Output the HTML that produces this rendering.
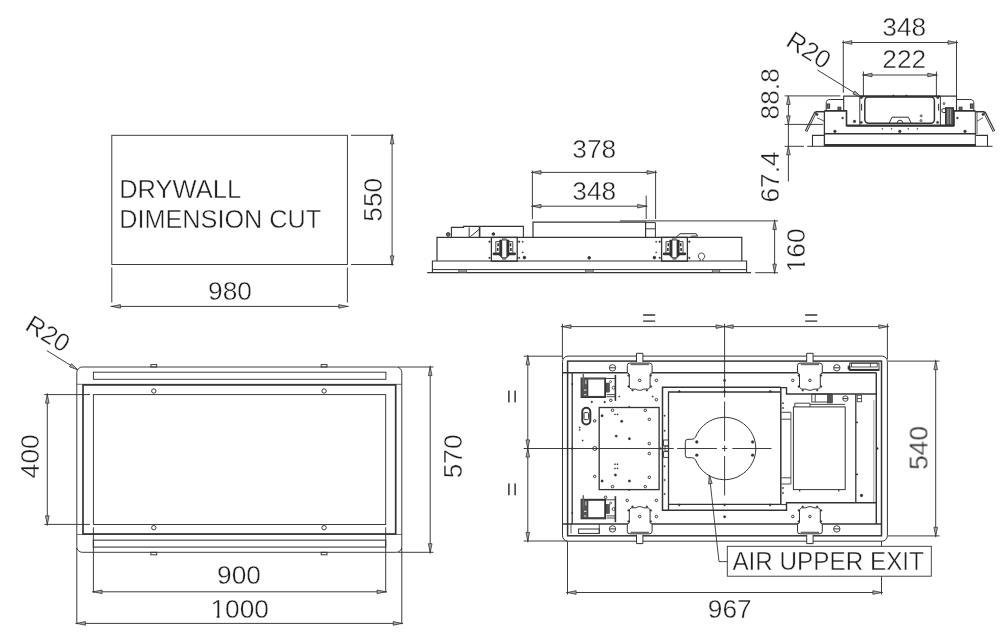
<!DOCTYPE html>
<html><head><meta charset="utf-8"><title>Drawing</title>
<style>
html,body{margin:0;padding:0;background:#fff}
svg{display:block}
.t{opacity:0.999}
.g{fill:none;stroke:#333;stroke-width:0.95}
.ah{fill:#a8a8a8;stroke:#333;stroke-width:0.8;stroke-linejoin:miter}
.t text{font-family:"Liberation Sans",sans-serif;font-size:26.3px;fill:#1e1e1e;stroke:#fff;stroke-width:0.42px;paint-order:fill stroke}
</style></head><body>
<svg width="1000" height="632" viewBox="0 0 1000 632">
<rect width="1000" height="632" fill="#fff"/>
<g class="g">
<rect x="111.8" y="135.3" width="235.6" height="129.2"/>
<line x1="111.8" y1="267.5" x2="111.8" y2="302.5"/>
<line x1="347.4" y1="267.5" x2="347.4" y2="302.5"/>
<line x1="110.5" y1="306.4" x2="348.7" y2="306.4"/>
<polygon class="ah" points="111.8,306.4 120.4,304.6 120.4,308.2"/>
<polygon class="ah" points="347.4,306.4 338.8,308.2 338.8,304.6"/>
<line x1="351" y1="135.3" x2="393.5" y2="135.3"/>
<line x1="351" y1="264.5" x2="393.5" y2="264.5"/>
<line x1="392.1" y1="134" x2="392.1" y2="265.8"/>
<polygon class="ah" points="392.1,135.3 393.9,143.9 390.3,143.9"/>
<polygon class="ah" points="392.1,264.5 390.3,255.9 393.9,255.9"/>
<rect x="76.8" y="367" width="325" height="185.3" rx="5.5"/>
<rect x="93.4" y="372.2" width="292.5" height="7.1"/>
<line x1="76.8" y1="384.3" x2="401.8" y2="384.3" stroke-width="0.7"/>
<line x1="76.8" y1="534.5" x2="401.8" y2="534.5" stroke-width="0.7"/>
<rect x="83" y="384.9" width="312.7" height="149.1" stroke-width="1.7"/>
<rect x="93.4" y="394.6" width="292.3" height="129.9"/>
<rect x="93.4" y="540.2" width="292.3" height="6.9" stroke="#555" stroke-width="1.3"/>
<rect x="150.9" y="364.6" width="5.8" height="2.4"/>
<rect x="150.9" y="552.3" width="5.8" height="2.5"/>
<circle cx="153.8" cy="391" r="2.2"/>
<circle cx="153.8" cy="527.7" r="2.2"/>
<rect x="321.2" y="364.6" width="5.8" height="2.4"/>
<rect x="321.2" y="552.3" width="5.8" height="2.5"/>
<circle cx="324.1" cy="391" r="2.2"/>
<circle cx="324.1" cy="527.7" r="2.2"/>
<line x1="44.3" y1="394.6" x2="90" y2="394.6"/>
<line x1="44.3" y1="524.4" x2="90" y2="524.4"/>
<line x1="47.3" y1="393.3" x2="47.3" y2="525.7"/>
<polygon class="ah" points="47.3,394.6 49.1,403.2 45.5,403.2"/>
<polygon class="ah" points="47.3,524.4 45.5,515.8 49.1,515.8"/>
<line x1="398" y1="367" x2="433.5" y2="367"/>
<line x1="398" y1="552.3" x2="433.5" y2="552.3"/>
<line x1="430.2" y1="365.7" x2="430.2" y2="553.6"/>
<polygon class="ah" points="430.2,367 432,375.6 428.4,375.6"/>
<polygon class="ah" points="430.2,552.3 428.4,543.7 432,543.7"/>
<line x1="93.4" y1="527.3" x2="93.4" y2="592.6"/>
<line x1="385.7" y1="527.3" x2="385.7" y2="592.6"/>
<line x1="92.1" y1="591.8" x2="387" y2="591.8"/>
<polygon class="ah" points="93.4,591.8 102,590 102,593.6"/>
<polygon class="ah" points="385.7,591.8 377.1,593.6 377.1,590"/>
<line x1="76.8" y1="548" x2="76.8" y2="624.2"/>
<line x1="401.8" y1="548" x2="401.8" y2="624.2"/>
<line x1="75.5" y1="623.4" x2="403.1" y2="623.4"/>
<polygon class="ah" points="76.8,623.4 85.4,621.6 85.4,625.2"/>
<polygon class="ah" points="401.8,623.4 393.2,625.2 393.2,621.6"/>
<line x1="46.8" y1="350.6" x2="77.8" y2="369.8"/>
<polygon class="ah" points="77.8,369.8 69.54,366.8 71.44,363.74"/>
<line x1="427.2" y1="272.7" x2="751" y2="272.7" stroke-width="1.2"/>
<path d="M432.4 272.7 L432.4 261 L746.6 261 L746.6 272.7" stroke-width="1.1"/>
<line x1="432.4" y1="269.6" x2="746.6" y2="269.6" stroke-width="1"/>
<path d="M437 261 L437 237.4 L741.8 237.4 L741.8 261" stroke-width="1.2"/>
<rect x="458.8" y="269.6" width="7.6" height="3.1" stroke-width="0.6" fill="#999"/>
<rect x="585.6" y="269.6" width="7.6" height="3.1" stroke-width="0.6" fill="#999"/>
<rect x="712.2" y="269.6" width="7.6" height="3.1" stroke-width="0.6" fill="#999"/>
<path d="M533 237.4 L533 222.2 L645.6 222.2 L645.6 237.4" stroke-width="1.2"/>
<line x1="645.6" y1="222.6" x2="655.4" y2="222.6" stroke-width="1"/>
<line x1="655.4" y1="222.6" x2="655.4" y2="237.4" stroke-width="1"/>
<line x1="645.6" y1="228.8" x2="655.4" y2="228.8" stroke-width="1"/>
<line x1="620" y1="220.9" x2="778" y2="220.9"/>
<path d="M451.4 237.4 L451.4 227.4 L463.6 227.4 L463.6 226.4 L523.4 226.4 L523.4 237.4" stroke-width="1.1"/>
<line x1="469.2" y1="227.4" x2="469.2" y2="237.4" stroke-width="1"/>
<line x1="479.6" y1="226.4" x2="479.6" y2="237.4" stroke-width="1.6"/>
<line x1="470.5" y1="236.5" x2="479.6" y2="229" stroke-width="1"/>
<circle cx="448.2" cy="234.4" r="1.8" stroke-width="1" fill="#666"/>
<circle cx="493.4" cy="234" r="1.3" fill="#333"/>
<rect x="491.4" y="237.4" width="25.8" height="23.8" stroke-width="1.3"/>
<path d="M499.6 240 L499.6 255.6 L502 258 L506.6 258 L509 255.6 L509 240Z" stroke-width="0.6" fill="#333"/>
<rect x="502.2" y="240.2" width="4.2" height="17.2" fill="#fff" stroke="none"/>
<rect x="502.3" y="238.8" width="4" height="1.2" stroke-width="0.5" fill="#999"/>
<rect x="502.7" y="258" width="3.2" height="1.2" stroke-width="0.5" fill="#999"/>
<path d="M495.8 252.6 L495.8 241.6 L499.6 241.6" stroke-width="0.9"/>
<path d="M512.8 252.6 L512.8 241.6 L509 241.6" stroke-width="0.9"/>
<path d="M493.9 253.9H499.3 M509.3 253.9H514.7" stroke-width="2.6" stroke-linecap="round"/>
<path d="M498.1 243.2v3 M510.5 243.2v3 M497.7 248v3 M510.9 248v3" stroke-width="1.6"/>
<circle cx="489.5" cy="241.7" r="0.9" stroke-width="0.3" fill="#333"/>
<circle cx="489.5" cy="257.8" r="0.9" stroke-width="0.3" fill="#333"/>
<circle cx="519.1" cy="241.7" r="0.9" stroke-width="0.3" fill="#333"/>
<circle cx="519.1" cy="257.8" r="0.9" stroke-width="0.3" fill="#333"/>
<rect x="661.6" y="237.4" width="25.8" height="23.8" stroke-width="1.3"/>
<path d="M669.8 240 L669.8 255.6 L672.2 258 L676.8 258 L679.2 255.6 L679.2 240Z" stroke-width="0.6" fill="#333"/>
<rect x="672.4" y="240.2" width="4.2" height="17.2" fill="#fff" stroke="none"/>
<rect x="672.5" y="238.8" width="4" height="1.2" stroke-width="0.5" fill="#999"/>
<rect x="672.9" y="258" width="3.2" height="1.2" stroke-width="0.5" fill="#999"/>
<path d="M666 252.6 L666 241.6 L669.8 241.6" stroke-width="0.9"/>
<path d="M683 252.6 L683 241.6 L679.2 241.6" stroke-width="0.9"/>
<path d="M664.1 253.9H669.5 M679.5 253.9H684.9" stroke-width="2.6" stroke-linecap="round"/>
<path d="M668.3 243.2v3 M680.7 243.2v3 M667.9 248v3 M681.1 248v3" stroke-width="1.6"/>
<circle cx="659.7" cy="241.7" r="0.9" stroke-width="0.3" fill="#333"/>
<circle cx="659.7" cy="257.8" r="0.9" stroke-width="0.3" fill="#333"/>
<circle cx="689.3" cy="241.7" r="0.9" stroke-width="0.3" fill="#333"/>
<circle cx="689.3" cy="257.8" r="0.9" stroke-width="0.3" fill="#333"/>
<circle cx="522.7" cy="241.7" r="0.7" stroke-width="0.3" fill="#333"/>
<circle cx="522.7" cy="252.4" r="0.7" stroke-width="0.3" fill="#333"/>
<circle cx="656.2" cy="241.7" r="0.7" stroke-width="0.3" fill="#333"/>
<circle cx="656.2" cy="252.4" r="0.7" stroke-width="0.3" fill="#333"/>
<circle cx="524.4" cy="257.6" r="1.3" fill="#333"/>
<circle cx="654.4" cy="257.6" r="1.3" fill="#333"/>
<circle cx="589.2" cy="257.8" r="1.3" fill="#333"/>
<path d="M676 237.4 L680 233.7 L696.2 233.7 L697.6 236 L691.6 236.2 L690 237.4" stroke-width="1"/>
<path d="M699.8 261 L700.4 259.2 A3.2 3.2 0 1 1 702.6 259.2 L703.2 261" stroke-width="0.9"/>
<line x1="532.4" y1="170.5" x2="532.4" y2="219"/>
<line x1="655.6" y1="170.5" x2="655.6" y2="219"/>
<line x1="646.2" y1="195.6" x2="646.2" y2="219"/>
<line x1="531.1" y1="172.4" x2="656.9" y2="172.4"/>
<polygon class="ah" points="532.4,172.4 541,170.6 541,174.2"/>
<polygon class="ah" points="655.6,172.4 647,174.2 647,170.6"/>
<line x1="531.1" y1="206.2" x2="647.5" y2="206.2"/>
<polygon class="ah" points="532.4,206.2 541,204.4 541,208"/>
<polygon class="ah" points="646.2,206.2 637.6,208 637.6,204.4"/>
<line x1="755.2" y1="272.7" x2="778" y2="272.7"/>
<line x1="774.6" y1="219.6" x2="774.6" y2="274"/>
<polygon class="ah" points="774.6,220.9 776.4,229.5 772.8,229.5"/>
<polygon class="ah" points="774.6,272.7 772.8,264.1 776.4,264.1"/>
<line x1="807.2" y1="146.3" x2="992.5" y2="146.3" stroke-width="1"/>
<path d="M824.4 135.4 L812.5 135.4 L812.5 146.3" stroke-width="1.1"/>
<path d="M975.9 135.4 L987.5 135.4 L987.5 146.3" stroke-width="1.1"/>
<line x1="824.4" y1="145.2" x2="975.9" y2="145.2" stroke-width="2.2"/>
<line x1="824.4" y1="133.8" x2="975.9" y2="133.8" stroke-width="1.4"/>
<line x1="824.4" y1="110.7" x2="824.4" y2="146.3" stroke-width="1.3"/>
<line x1="975.3" y1="110.7" x2="975.3" y2="146.3" stroke-width="1"/>
<line x1="977" y1="111.5" x2="977" y2="134" stroke-width="0.8"/>
<path d="M824.4 110.9 L846.5 110.9 L846.5 125.4 L954 125.4 L954 110.9 L975.3 110.9" stroke-width="1.6"/>
<line x1="846.5" y1="126.2" x2="954" y2="126.2" stroke-width="1.2"/>
<path d="M826.2 110.7 L826.2 102.6 Q826.2 99.5 830.5 99.5 L843.7 99.5" stroke-width="1"/>
<path d="M973.8 110.7 L973.8 102.6 Q973.8 99.5 969.5 99.5 L956.5 99.5" stroke-width="1"/>
<rect x="827.2" y="104" width="2.4" height="4.2" stroke-width="1" fill="#777"/>
<rect x="838" y="107.2" width="2.8" height="2.8" stroke-width="1" fill="#777"/>
<rect x="970.4" y="104" width="2.4" height="4.2" stroke-width="1" fill="#777"/>
<rect x="959.2" y="107.2" width="2.8" height="2.8" stroke-width="1" fill="#777"/>
<path d="M843.7 110.7 L843.7 96.1 L956.5 96.1 L956.5 110.7" stroke-width="1.1"/>
<line x1="859.8" y1="96.1" x2="859.8" y2="125" stroke-width="1"/>
<line x1="940.4" y1="96.1" x2="940.4" y2="125" stroke-width="1"/>
<line x1="859.8" y1="96.3" x2="940.4" y2="96.3" stroke-width="1.7"/>
<rect x="864.8" y="97.1" width="69.6" height="26.1" stroke-width="1.5" rx="3.6"/>
<line x1="861.6" y1="103.8" x2="861.6" y2="110.6" stroke-width="1"/>
<line x1="938.6" y1="103.8" x2="938.6" y2="110.6" stroke-width="1"/>
<path d="M889.2 123 L892 117.2 L908.4 117.2 L911 123" stroke-width="1"/>
<path d="M897.2 123 A2.8 2.8 0 0 1 902.8 123" stroke-width="1"/>
<rect x="945.6" y="107.8" width="7.8" height="17.2" stroke-width="1.2" fill="#555"/>
<line x1="948" y1="109" x2="948" y2="124" stroke-width="0.7" stroke="#ccc"/>
<line x1="950.6" y1="109" x2="950.6" y2="124" stroke-width="0.7" stroke="#ccc"/>
<circle cx="943.9" cy="110.6" r="2.1" stroke-width="1"/>
<path d="M824.4 111.7 L815.4 111.7" stroke-width="1.5"/>
<path d="M815.6 112 L806 131.4" stroke-width="2.8"/><path d="M815.2 113.4 L806.3 131" stroke="#fff" stroke-width="0.8"/>
<circle cx="817" cy="114.4" r="1.2" stroke-width="0.3" fill="#333"/>
<line x1="817" y1="117.8" x2="824.4" y2="121.2" stroke-width="0.8"/>
<path d="M975.3 111.7 L984.6 111.7" stroke-width="1.5"/>
<path d="M984.4 112 L994 131.4" stroke-width="2.8"/><path d="M984.8 113.4 L993.7 131" stroke="#fff" stroke-width="0.8"/>
<circle cx="983" cy="114.4" r="1.2" stroke-width="0.3" fill="#333"/>
<line x1="983" y1="117.8" x2="977" y2="121.2" stroke-width="0.8"/>
<circle cx="842.6" cy="118" r="1" stroke-width="0.3" fill="#333"/>
<circle cx="957.4" cy="118" r="1" stroke-width="0.3" fill="#333"/>
<circle cx="854.5" cy="121.4" r="1.3" stroke-width="0.3" fill="#333"/>
<circle cx="861.2" cy="122.4" r="1.2" stroke-width="0.3" fill="#333"/>
<circle cx="937.6" cy="122.4" r="1.2" stroke-width="0.3" fill="#333"/>
<circle cx="861.4" cy="97.6" r="1.2" stroke-width="0.3" fill="#333"/>
<circle cx="937.8" cy="97.6" r="1.2" stroke-width="0.3" fill="#333"/>
<circle cx="834.9" cy="131.4" r="1.4" stroke-width="0.3" fill="#333"/>
<circle cx="899.8" cy="131.4" r="1.4" stroke-width="0.3" fill="#333"/>
<circle cx="965" cy="131.4" r="1.4" stroke-width="0.3" fill="#333"/>
<circle cx="882.5" cy="128.8" r="0.6" stroke-width="0.3" fill="#333"/>
<circle cx="891.5" cy="128.8" r="0.6" stroke-width="0.3" fill="#333"/>
<circle cx="908.3" cy="128.8" r="0.6" stroke-width="0.3" fill="#333"/>
<circle cx="917.4" cy="128.8" r="0.6" stroke-width="0.3" fill="#333"/>
<circle cx="944" cy="103.6" r="1.1" stroke-width="0.6" fill="#aaa"/>
<circle cx="921.2" cy="115.8" r="1.1" stroke-width="0.6" fill="#aaa"/>
<circle cx="921" cy="120.6" r="1.1" stroke-width="0.6" fill="#aaa"/>
<circle cx="893.4" cy="95.6" r="0.8" stroke-width="0.3" fill="#333"/>
<circle cx="906.4" cy="95.6" r="0.8" stroke-width="0.3" fill="#333"/>
<line x1="843.3" y1="40.5" x2="843.3" y2="92.8"/>
<line x1="956.5" y1="40.5" x2="956.5" y2="96"/>
<line x1="842" y1="42.5" x2="957.9" y2="42.5"/>
<polygon class="ah" points="843.3,42.5 851.9,40.7 851.9,44.3"/>
<polygon class="ah" points="956.6,42.5 948,44.3 948,40.7"/>
<line x1="863.4" y1="71.5" x2="863.4" y2="96"/>
<line x1="936.4" y1="71.5" x2="936.4" y2="96"/>
<line x1="862.1" y1="75" x2="937.7" y2="75"/>
<polygon class="ah" points="863.4,75 872,73.2 872,76.8"/>
<polygon class="ah" points="936.4,75 927.8,76.8 927.8,73.2"/>
<line x1="784.6" y1="95.9" x2="840.4" y2="95.9"/>
<line x1="784.6" y1="124.4" x2="823.2" y2="124.4"/>
<line x1="784.6" y1="146.3" x2="803.9" y2="146.3"/>
<line x1="788.4" y1="95.9" x2="788.4" y2="181.5"/>
<polygon class="ah" points="788.4,95.9 790.2,104.5 786.6,104.5"/>
<polygon class="ah" points="788.4,124.4 786.6,115.8 790.2,115.8"/>
<polygon class="ah" points="788.4,146.3 790.2,154.9 786.6,154.9"/>
<line x1="817.4" y1="70" x2="861.2" y2="97"/>
<polygon class="ah" points="861.2,97 852.93,94.03 854.82,90.96"/>
<rect x="562.5" y="356.1" width="324.9" height="185.1" stroke-width="1" rx="5.5"/>
<rect x="567.6" y="361.1" width="313.9" height="174.7" stroke-width="1.5"/>
<line x1="562.5" y1="372.7" x2="876.3" y2="372.7" stroke-width="1.5"/>
<line x1="562.5" y1="523.9" x2="881.5" y2="523.9" stroke-width="1.5"/>
<line x1="572.2" y1="372.7" x2="572.2" y2="523.9" stroke-width="1.3"/>
<line x1="876.3" y1="372.7" x2="876.3" y2="523.9" stroke-width="1.4"/>
<line x1="873.8" y1="400" x2="873.8" y2="503" stroke-width="0.7" stroke="#777"/>
<path d="M636.5 362.1 L636.5 353.3 L642.9 353.3 L642.9 362.1" stroke-width="1" fill="#fff"/>
<rect x="628.7" y="371.2" width="22" height="3" fill="#fff" stroke="none"/>
<path d="M627.3 372.7 L627.3 365.6 Q627.3 363.1 629.9 363.1 L649.5 363.1 Q652.1 363.1 652.1 365.6 L652.1 372.7" stroke-width="1" fill="#fff"/>
<line x1="630.5" y1="364.2" x2="648.9" y2="364.2" stroke-width="2" stroke="#6a6a6a"/>
<path d="M627.3 372.7 L629.3 374.1 L629.3 387.1 L631.1 389.1 L635.7 389.1 Q637.7 390.3 639.7 390.3 Q641.7 390.3 643.7 389.1 L648.3 389.1 L650.1 387.1 L650.1 374.1 L652.1 372.7" stroke-width="1" fill="#fff"/>
<circle cx="628.5" cy="375.5" r="0.9" stroke-width="0.3" fill="#333"/>
<circle cx="628.5" cy="386.5" r="0.9" stroke-width="0.3" fill="#333"/>
<circle cx="650.9" cy="375.5" r="0.9" stroke-width="0.3" fill="#333"/>
<circle cx="650.9" cy="386.5" r="0.9" stroke-width="0.3" fill="#333"/>
<circle cx="632.5" cy="390.3" r="0.9" stroke-width="0.3" fill="#333"/>
<circle cx="646.9" cy="390.3" r="0.9" stroke-width="0.3" fill="#333"/>
<circle cx="639.7" cy="380.4" r="1.25" stroke-width="1"/>
<path d="M636.5 534.8 L636.5 543.6 L642.9 543.6 L642.9 534.8" stroke-width="1" fill="#fff"/>
<rect x="628.7" y="522.7" width="22" height="3" fill="#fff" stroke="none"/>
<path d="M627.3 524.2 L627.3 531.3 Q627.3 533.8 629.9 533.8 L649.5 533.8 Q652.1 533.8 652.1 531.3 L652.1 524.2" stroke-width="1" fill="#fff"/>
<line x1="630.5" y1="532.7" x2="648.9" y2="532.7" stroke-width="2" stroke="#6a6a6a"/>
<path d="M627.3 524.2 L629.3 522.8 L629.3 509.8 L631.1 507.8 L635.7 507.8 Q637.7 506.6 639.7 506.6 Q641.7 506.6 643.7 507.8 L648.3 507.8 L650.1 509.8 L650.1 522.8 L652.1 524.2" stroke-width="1" fill="#fff"/>
<circle cx="628.5" cy="521.4" r="0.9" stroke-width="0.3" fill="#333"/>
<circle cx="628.5" cy="510.4" r="0.9" stroke-width="0.3" fill="#333"/>
<circle cx="650.9" cy="521.4" r="0.9" stroke-width="0.3" fill="#333"/>
<circle cx="650.9" cy="510.4" r="0.9" stroke-width="0.3" fill="#333"/>
<circle cx="632.5" cy="506.6" r="0.9" stroke-width="0.3" fill="#333"/>
<circle cx="646.9" cy="506.6" r="0.9" stroke-width="0.3" fill="#333"/>
<circle cx="639.7" cy="516.5" r="1.25" stroke-width="1"/>
<path d="M806.7 362.1 L806.7 353.3 L813.1 353.3 L813.1 362.1" stroke-width="1" fill="#fff"/>
<rect x="798.9" y="371.2" width="22" height="3" fill="#fff" stroke="none"/>
<path d="M797.5 372.7 L797.5 365.6 Q797.5 363.1 800.1 363.1 L819.7 363.1 Q822.3 363.1 822.3 365.6 L822.3 372.7" stroke-width="1" fill="#fff"/>
<line x1="800.7" y1="364.2" x2="819.1" y2="364.2" stroke-width="2" stroke="#6a6a6a"/>
<path d="M797.5 372.7 L799.5 374.1 L799.5 387.1 L801.3 389.1 L805.9 389.1 Q807.9 390.3 809.9 390.3 Q811.9 390.3 813.9 389.1 L818.5 389.1 L820.3 387.1 L820.3 374.1 L822.3 372.7" stroke-width="1" fill="#fff"/>
<circle cx="798.7" cy="375.5" r="0.9" stroke-width="0.3" fill="#333"/>
<circle cx="798.7" cy="386.5" r="0.9" stroke-width="0.3" fill="#333"/>
<circle cx="821.1" cy="375.5" r="0.9" stroke-width="0.3" fill="#333"/>
<circle cx="821.1" cy="386.5" r="0.9" stroke-width="0.3" fill="#333"/>
<circle cx="802.7" cy="390.3" r="0.9" stroke-width="0.3" fill="#333"/>
<circle cx="817.1" cy="390.3" r="0.9" stroke-width="0.3" fill="#333"/>
<circle cx="809.9" cy="380.4" r="1.25" stroke-width="1"/>
<path d="M806.7 534.8 L806.7 543.6 L813.1 543.6 L813.1 534.8" stroke-width="1" fill="#fff"/>
<rect x="798.9" y="522.7" width="22" height="3" fill="#fff" stroke="none"/>
<path d="M797.5 524.2 L797.5 531.3 Q797.5 533.8 800.1 533.8 L819.7 533.8 Q822.3 533.8 822.3 531.3 L822.3 524.2" stroke-width="1" fill="#fff"/>
<line x1="800.7" y1="532.7" x2="819.1" y2="532.7" stroke-width="2" stroke="#6a6a6a"/>
<path d="M797.5 524.2 L799.5 522.8 L799.5 509.8 L801.3 507.8 L805.9 507.8 Q807.9 506.6 809.9 506.6 Q811.9 506.6 813.9 507.8 L818.5 507.8 L820.3 509.8 L820.3 522.8 L822.3 524.2" stroke-width="1" fill="#fff"/>
<circle cx="798.7" cy="521.4" r="0.9" stroke-width="0.3" fill="#333"/>
<circle cx="798.7" cy="510.4" r="0.9" stroke-width="0.3" fill="#333"/>
<circle cx="821.1" cy="521.4" r="0.9" stroke-width="0.3" fill="#333"/>
<circle cx="821.1" cy="510.4" r="0.9" stroke-width="0.3" fill="#333"/>
<circle cx="802.7" cy="506.6" r="0.9" stroke-width="0.3" fill="#333"/>
<circle cx="817.1" cy="506.6" r="0.9" stroke-width="0.3" fill="#333"/>
<circle cx="809.9" cy="516.5" r="1.25" stroke-width="1"/>
<circle cx="612.5" cy="367.8" r="3.2" stroke-width="0.9"/>
<line x1="609.5" y1="367.8" x2="615.5" y2="367.8" stroke-width="1"/>
<circle cx="836.8" cy="367.8" r="3.2" stroke-width="0.9"/>
<line x1="833.8" y1="367.8" x2="839.8" y2="367.8" stroke-width="1"/>
<circle cx="612.5" cy="528.9" r="3.2" stroke-width="0.9"/>
<line x1="609.5" y1="528.9" x2="615.5" y2="528.9" stroke-width="1"/>
<circle cx="836.8" cy="528.9" r="3.2" stroke-width="0.9"/>
<line x1="833.8" y1="528.9" x2="839.8" y2="528.9" stroke-width="1"/>
<rect x="581.2" y="378.1" width="24.2" height="19.3" stroke-width="1.2"/>
<rect x="587.8" y="379" width="17" height="17.4" stroke-width="1"/>
<rect x="581.8" y="378.7" width="5.6" height="18.2" stroke-width="0.6" fill="#555"/>
<line x1="583.3" y1="373.9" x2="583.3" y2="387.1" stroke-width="1.5" stroke="#666"/>
<line x1="585.9" y1="380.1" x2="585.9" y2="384.1" stroke-width="1" stroke="#ddd"/>
<line x1="584" y1="390.1" x2="586.4" y2="390.1" stroke-width="1.2" stroke="#ddd"/>
<line x1="584" y1="394.7" x2="586.4" y2="394.7" stroke-width="1" stroke="#ddd"/>
<line x1="615.4" y1="374.9" x2="615.4" y2="400.9" stroke-width="1.6"/>
<rect x="606" y="383.1" width="3.4" height="9" stroke-width="0.6" fill="#555"/>
<line x1="605.4" y1="378.5" x2="615.4" y2="378.5" stroke-width="0.9"/>
<line x1="606.5" y1="394.6" x2="615.4" y2="394.6" stroke-width="0.9"/>
<line x1="606.5" y1="396.7" x2="615.4" y2="396.7" stroke-width="0.9"/>
<circle cx="613.6" cy="387.7" r="1.5" stroke-width="0.8"/>
<circle cx="610.6" cy="381.7" r="1" stroke-width="0.7"/>
<rect x="581.2" y="499.4" width="24.2" height="19.3" stroke-width="1.2"/>
<rect x="587.8" y="500.3" width="17" height="17.4" stroke-width="1"/>
<rect x="581.8" y="500" width="5.6" height="18.2" stroke-width="0.6" fill="#555"/>
<line x1="583.3" y1="495.2" x2="583.3" y2="508.4" stroke-width="1.5" stroke="#666"/>
<line x1="585.9" y1="501.4" x2="585.9" y2="505.4" stroke-width="1" stroke="#ddd"/>
<line x1="584" y1="511.4" x2="586.4" y2="511.4" stroke-width="1.2" stroke="#ddd"/>
<line x1="584" y1="516" x2="586.4" y2="516" stroke-width="1" stroke="#ddd"/>
<line x1="615.4" y1="496.2" x2="615.4" y2="522.2" stroke-width="1.6"/>
<rect x="606" y="504.4" width="3.4" height="9" stroke-width="0.6" fill="#555"/>
<line x1="605.4" y1="499.8" x2="615.4" y2="499.8" stroke-width="0.9"/>
<line x1="606.5" y1="515.9" x2="615.4" y2="515.9" stroke-width="0.9"/>
<line x1="606.5" y1="518" x2="615.4" y2="518" stroke-width="0.9"/>
<circle cx="613.6" cy="509" r="1.5" stroke-width="0.8"/>
<circle cx="610.6" cy="503" r="1" stroke-width="0.7"/>
<rect x="582.3" y="407.8" width="8" height="16.6" stroke-width="2" rx="4"/>
<rect x="584" y="412.6" width="4.6" height="7" stroke-width="1" rx="1"/>
<rect x="599.2" y="407.5" width="59.9" height="82.1" stroke-width="1.3"/>
<path d="M780.8 387.2 L662.5 387.2 L662.5 510.3 L780.8 510.3" stroke-width="1.5"/>
<line x1="780.8" y1="387.2" x2="780.8" y2="504.3" stroke-width="1.5"/>
<path d="M668.5 510.3 L668.5 392 L780.8 392" stroke-width="1.3"/>
<line x1="668.5" y1="504.3" x2="780.8" y2="504.3" stroke-width="1.3"/>
<rect x="663.6" y="440" width="4.9" height="5.8" stroke-width="0.9"/>
<rect x="663.6" y="451.6" width="4.9" height="5.8" stroke-width="0.9"/>
<rect x="665" y="446.2" width="3.5" height="4.8" stroke-width="0.8"/>
<circle cx="664.6" cy="415.7" r="0.8" stroke-width="0.3" fill="#333"/>
<circle cx="664.6" cy="430.7" r="0.8" stroke-width="0.3" fill="#333"/>
<circle cx="664.6" cy="466.3" r="0.8" stroke-width="0.3" fill="#333"/>
<circle cx="664.6" cy="480" r="0.8" stroke-width="0.3" fill="#333"/>
<circle cx="664.6" cy="494" r="0.8" stroke-width="0.3" fill="#333"/>
<path d="M678.1 392 L679.3 390.2 L680.5 392Z" stroke-width="0.8" fill="#333"/>
<path d="M678.1 504.3 L679.3 506.2 L680.5 504.3Z" stroke-width="0.8" fill="#333"/>
<path d="M723.4 392 L724.6 390.2 L725.8 392Z" stroke-width="0.8" fill="#333"/>
<path d="M723.4 504.3 L724.6 506.2 L725.8 504.3Z" stroke-width="0.8" fill="#333"/>
<path d="M769 392 L770.2 390.2 L771.4 392Z" stroke-width="0.8" fill="#333"/>
<path d="M769 504.3 L770.2 506.2 L771.4 504.3Z" stroke-width="0.8" fill="#333"/>
<path d="M780.8 387.6 L786.5 387.6 L786.5 394 L876.3 394" stroke-width="1.4"/>
<path d="M780.8 510.3 L786.5 510.3 L786.5 502.8 L876.3 502.8" stroke-width="1.4"/>
<line x1="780.8" y1="504.6" x2="786.5" y2="504.6" stroke-width="1"/>
<line x1="790.9" y1="412.3" x2="790.9" y2="484" stroke-width="0.8"/>
<line x1="781.5" y1="412.3" x2="790.9" y2="412.3" stroke-width="0.9"/>
<line x1="781.5" y1="419.2" x2="790.9" y2="419.2" stroke-width="0.9"/>
<line x1="781.5" y1="477.8" x2="790.9" y2="477.8" stroke-width="0.9"/>
<line x1="781.5" y1="484" x2="790.9" y2="484" stroke-width="0.9"/>
<circle cx="783" cy="403.2" r="0.8" stroke-width="0.3" fill="#333"/>
<circle cx="783" cy="408" r="0.8" stroke-width="0.3" fill="#333"/>
<circle cx="783" cy="488" r="0.8" stroke-width="0.3" fill="#333"/>
<circle cx="783" cy="493" r="0.8" stroke-width="0.3" fill="#333"/>
<rect x="793.4" y="406.9" width="51.8" height="82.7" stroke-width="1"/>
<line x1="794.8" y1="403.2" x2="810" y2="403.2" stroke-width="0.9"/>
<line x1="794.8" y1="403.2" x2="794.8" y2="406.9" stroke-width="0.9"/>
<line x1="810" y1="403.2" x2="810" y2="406.9" stroke-width="0.9"/>
<line x1="810" y1="404.4" x2="845.2" y2="404.4" stroke-width="0.9"/>
<rect x="811.8" y="394" width="19.5" height="8" stroke-width="0.9"/>
<line x1="815.2" y1="394" x2="815.2" y2="402" stroke-width="0.9"/>
<rect x="827.4" y="394.5" width="5" height="8.5" stroke-width="0.6" fill="#555"/>
<line x1="799.7" y1="489.6" x2="799.7" y2="491.6" stroke-width="1.2"/>
<line x1="838.8" y1="489.6" x2="838.8" y2="491.6" stroke-width="1.2"/>
<circle cx="845.4" cy="398.6" r="2.7" stroke-width="0.9"/>
<line x1="843" y1="398.6" x2="848" y2="398.6" stroke-width="1"/>
<rect x="857.2" y="395.2" width="4.4" height="6.6" stroke-width="0.8"/>
<line x1="857.2" y1="398.5" x2="861.6" y2="398.5" stroke-width="0.8"/>
<line x1="855.8" y1="394" x2="855.8" y2="502.8" stroke-width="1.3"/>
<line x1="855.8" y1="422.4" x2="858" y2="422.4" stroke-width="1.4"/>
<line x1="855.8" y1="474.4" x2="858" y2="474.4" stroke-width="1.4"/>
<circle cx="861.5" cy="495.5" r="1.4" stroke-width="0.3" fill="#333"/>
<rect x="849.7" y="363.1" width="29.3" height="7.3" stroke-width="1"/>
<line x1="849.7" y1="369.8" x2="879" y2="369.8" stroke-width="1.8"/>
<rect x="851.6" y="363.1" width="25.6" height="3.9" stroke-width="0.8"/>
<line x1="870.4" y1="363.1" x2="870.4" y2="367" stroke-width="0.8"/>
<rect x="848" y="366" width="2" height="3.4" stroke-width="0.6" fill="#333"/>
<rect x="578.6" y="529" width="20.7" height="4.4" stroke-width="1"/>
<line x1="599.3" y1="523.9" x2="599.3" y2="533.4" stroke-width="0.9"/>
<line x1="571" y1="523.9" x2="571" y2="533.4" stroke-width="0.8"/>
<path d="M695.56 437.1 A31.2 31.2 0 1 1 695.56 459.9 Q694.36 457.7 691.56 457.7 L687.8 457.7 Q685.3 457.7 685.3 455.2 L685.3 441.8 Q685.3 439.3 687.8 439.3 L691.56 439.3 Q694.36 439.3 695.56 437.1 Z" stroke-width="1"/>
<circle cx="696.8" cy="442" r="1.4" stroke-width="0.3" fill="#333"/>
<circle cx="696.8" cy="455.2" r="1.4" stroke-width="0.3" fill="#333"/>
<circle cx="752.6" cy="442" r="1.4" stroke-width="0.3" fill="#333"/>
<circle cx="752.6" cy="455.2" r="1.4" stroke-width="0.3" fill="#333"/>
<line x1="523.7" y1="448.5" x2="673.8" y2="448.5"/>
<line x1="677.2" y1="448.5" x2="716.9" y2="448.5"/>
<line x1="722" y1="448.5" x2="727.3" y2="448.5"/>
<line x1="732.4" y1="448.5" x2="771.5" y2="448.5"/>
<line x1="724.6" y1="323.7" x2="724.6" y2="397.4"/>
<line x1="724.6" y1="401.5" x2="724.6" y2="441"/>
<line x1="724.6" y1="445.6" x2="724.6" y2="451.4"/>
<line x1="724.6" y1="456" x2="724.6" y2="495.5"/>
<circle cx="594.7" cy="448.5" r="2" stroke-width="0.9"/>
<circle cx="656.4" cy="380.4" r="1.25" stroke-width="1"/>
<circle cx="656.4" cy="399.7" r="1.25" stroke-width="1"/>
<circle cx="610.8" cy="400.3" r="1.25" stroke-width="1"/>
<circle cx="594.7" cy="420.9" r="1.25" stroke-width="1"/>
<circle cx="594.7" cy="476.4" r="1.25" stroke-width="1"/>
<circle cx="612.5" cy="410.3" r="1.25" stroke-width="1"/>
<circle cx="645.3" cy="410.3" r="1.25" stroke-width="1"/>
<circle cx="649.3" cy="419.4" r="1.25" stroke-width="1"/>
<circle cx="649.3" cy="443.6" r="1.25" stroke-width="1"/>
<circle cx="649.3" cy="453.5" r="1.25" stroke-width="1"/>
<circle cx="649.3" cy="477.3" r="1.25" stroke-width="1"/>
<circle cx="612.5" cy="486.6" r="1.25" stroke-width="1"/>
<circle cx="645.3" cy="486.6" r="1.25" stroke-width="1"/>
<circle cx="605.6" cy="497.3" r="1.25" stroke-width="1"/>
<circle cx="627.2" cy="500.4" r="1.25" stroke-width="1"/>
<circle cx="656.4" cy="500.4" r="1.25" stroke-width="1"/>
<circle cx="656.4" cy="516.5" r="1.25" stroke-width="1"/>
<circle cx="792.8" cy="380.4" r="1.25" stroke-width="1"/>
<circle cx="792.8" cy="516.5" r="1.25" stroke-width="1"/>
<circle cx="591.8" cy="402" r="0.9" stroke-width="0.3" fill="#333"/>
<circle cx="604.7" cy="402" r="0.9" stroke-width="0.3" fill="#333"/>
<circle cx="619.2" cy="396.5" r="0.7" stroke-width="0.3" fill="#333"/>
<circle cx="652.7" cy="396.5" r="0.7" stroke-width="0.3" fill="#333"/>
<circle cx="602.1" cy="415.8" r="1.2" stroke-width="0.3" fill="#333"/>
<circle cx="621.7" cy="421.3" r="1.2" stroke-width="0.3" fill="#333"/>
<circle cx="616.2" cy="436.1" r="1.2" stroke-width="0.3" fill="#333"/>
<circle cx="629.4" cy="438.7" r="1.2" stroke-width="0.3" fill="#333"/>
<circle cx="615.4" cy="475" r="1.2" stroke-width="0.3" fill="#333"/>
<circle cx="602.1" cy="481" r="1.2" stroke-width="0.3" fill="#333"/>
<circle cx="629.4" cy="481" r="1.2" stroke-width="0.3" fill="#333"/>
<circle cx="579.7" cy="427.5" r="0.7" stroke-width="0.3" fill="#333"/>
<circle cx="579.7" cy="429.9" r="0.7" stroke-width="0.3" fill="#333"/>
<circle cx="582.6" cy="440.5" r="0.7" stroke-width="0.3" fill="#333"/>
<circle cx="615" cy="414.4" r="0.7" stroke-width="0.3" fill="#333"/>
<circle cx="617.5" cy="414.4" r="0.7" stroke-width="0.3" fill="#333"/>
<circle cx="615" cy="464.3" r="0.7" stroke-width="0.3" fill="#333"/>
<circle cx="617.5" cy="464.3" r="0.7" stroke-width="0.3" fill="#333"/>
<circle cx="615" cy="468.4" r="0.7" stroke-width="0.3" fill="#333"/>
<circle cx="617.5" cy="468.4" r="0.7" stroke-width="0.3" fill="#333"/>
<circle cx="724.6" cy="380.4" r="1.2" stroke-width="0.3" fill="#333"/>
<circle cx="724.6" cy="516.8" r="1.2" stroke-width="0.3" fill="#333"/>
<circle cx="572.2" cy="448.5" r="1" stroke-width="0.3" fill="#333"/>
<circle cx="572.2" cy="384" r="0.8" stroke-width="0.3" fill="#333"/>
<circle cx="572.2" cy="513" r="0.8" stroke-width="0.3" fill="#333"/>
<circle cx="877.4" cy="448.5" r="1" stroke-width="0.3" fill="#333"/>
<circle cx="629.2" cy="407" r="0.8" stroke-width="0.3" fill="#333"/>
<circle cx="629.2" cy="490" r="0.8" stroke-width="0.3" fill="#333"/>
<circle cx="660.5" cy="448.5" r="0.9" stroke-width="0.3" fill="#333"/>
<line x1="562.4" y1="323.7" x2="562.4" y2="359"/>
<line x1="887.4" y1="323.7" x2="887.4" y2="359"/>
<line x1="560.8" y1="326.6" x2="889" y2="326.6"/>
<polygon class="ah" points="562.4,326.6 571,324.8 571,328.4"/>
<polygon class="ah" points="724.6,326.6 716,328.4 716,324.8"/>
<polygon class="ah" points="724.6,326.6 733.2,324.8 733.2,328.4"/>
<polygon class="ah" points="887.4,326.6 878.8,328.4 878.8,324.8"/>
<line x1="523.7" y1="356.2" x2="562.4" y2="356.2"/>
<line x1="523.7" y1="541" x2="567" y2="541"/>
<line x1="527.8" y1="354.8" x2="527.8" y2="542.4"/>
<polygon class="ah" points="527.8,356.2 529.6,364.8 526,364.8"/>
<polygon class="ah" points="527.8,448.5 526,439.9 529.6,439.9"/>
<polygon class="ah" points="527.8,448.5 529.6,457.1 526,457.1"/>
<polygon class="ah" points="527.8,541 526,532.4 529.6,532.4"/>
<line x1="888" y1="361.1" x2="939.5" y2="361.1"/>
<line x1="888" y1="535.9" x2="939.5" y2="535.9"/>
<line x1="935.7" y1="359.8" x2="935.7" y2="537.2"/>
<polygon class="ah" points="935.7,361.1 937.5,369.7 933.9,369.7"/>
<polygon class="ah" points="935.7,535.9 933.9,527.3 937.5,527.3"/>
<line x1="567.5" y1="541.2" x2="567.5" y2="594.5"/>
<line x1="881.5" y1="541.2" x2="881.5" y2="594.5"/>
<line x1="566.2" y1="592.5" x2="882.8" y2="592.5"/>
<polygon class="ah" points="567.5,592.5 576.1,590.7 576.1,594.3"/>
<polygon class="ah" points="881.5,592.5 872.9,594.3 872.9,590.7"/>
<rect x="727.3" y="546.3" width="204" height="29.9" stroke-width="0.9" fill="#fff"/>
<path d="M709.4 475.2 L719 561.6 L727.3 561.6" stroke-width="0.9"/>
<polygon class="ah" points="709.4,475.2 712.15,483.55 708.57,483.95"/>
</g>
<g class="t">
<text x="119.2" y="198" style="font-size:25.5px;">DRYWALL</text>
<text x="119.2" y="228.3" style="font-size:25.7px;" textLength="202" lengthAdjust="spacingAndGlyphs">DIMENSION CUT</text>
<text x="230" y="300" text-anchor="middle">980</text>
<text x="382.4" y="199.8" transform="rotate(-90 382.4 199.8)" text-anchor="middle">550</text>
<text x="39.4" y="456.3" transform="rotate(-90 39.4 456.3)" text-anchor="middle">400</text>
<text x="462" y="456.3" transform="rotate(-90 462 456.3)" text-anchor="middle">570</text>
<text x="239" y="583.6" text-anchor="middle">900</text>
<text x="239.7" y="617.8" text-anchor="middle">1000</text>
<text x="23.8" y="329" style="font-size:25.2px;" transform="rotate(31.5 23.8 329)">R20</text>
<text x="594.3" y="158" text-anchor="middle">378</text>
<text x="594.3" y="199.6" text-anchor="middle">348</text>
<text x="805" y="250.3" transform="rotate(-90 805 250.3)" text-anchor="middle">160</text>
<text x="904.3" y="36.3" text-anchor="middle">348</text>
<text x="904.3" y="67.6" text-anchor="middle">222</text>
<text x="779.4" y="93.8" transform="rotate(-90 779.4 93.8)" text-anchor="middle">88.8</text>
<text x="779.4" y="177" transform="rotate(-90 779.4 177)" text-anchor="middle">67.4</text>
<text x="784.4" y="45" style="font-size:25.4px;" transform="rotate(32 784.4 45)">R20</text>
<text x="729.8" y="617.7" text-anchor="middle">967</text>
<text x="927.6" y="448" transform="rotate(-90 927.6 448)" text-anchor="middle">540</text>
<text x="649" y="326.2" style="font-size:25.2px;stroke-width:0.3px" text-anchor="middle">=</text>
<text x="811" y="326.2" style="font-size:25.2px;stroke-width:0.3px" text-anchor="middle">=</text>
<text x="519.6" y="396.7" style="font-size:25.2px;stroke-width:0.3px" transform="rotate(-90 519.6 396.7)" text-anchor="middle">=</text>
<text x="519.6" y="489.4" style="font-size:25.2px;stroke-width:0.3px" transform="rotate(-90 519.6 489.4)" text-anchor="middle">=</text>
<text x="732.4" y="569.7" style="font-size:25.2px;" textLength="191.5" lengthAdjust="spacingAndGlyphs">AIR UPPER EXIT</text>
</g>
<g fill="#fff" stroke="none"><rect x="211" y="615.7" width="5.7" height="2.8"/><rect x="219.6" y="615.7" width="5" height="2.8"/><rect x="802.5" y="258.3" width="3.2" height="4.4"/><rect x="802.5" y="265.8" width="3.2" height="5"/></g>
</svg>
</body></html>
